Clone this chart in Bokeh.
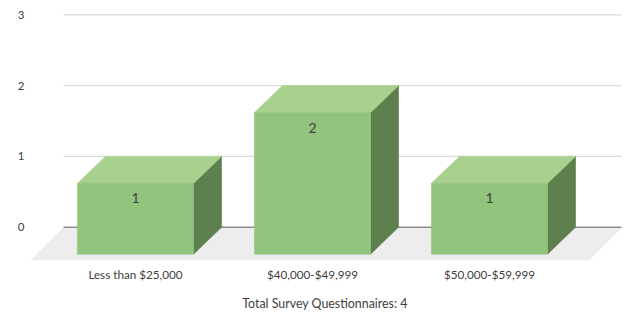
from bokeh.plotting import figure
from bokeh.models import FixedTicker, Range1d
from bokeh.core.properties import value
from bokeh.embed import file_html
from bokeh.resources import INLINE

# ---- data ----
categories = ["Less than $25,000", "$40,000-$49,999", "$50,000-$59,999"]
counts = [1, 2, 1]
y_ticks = [0, 1, 2, 3]
total_label = "Total Survey Questionnaires: 4"

# ---- style ----
FRONT = "#92C47D"
TOP = "#A9D18E"
SIDE = "#5E7F4E"
FLOOR = "#EDEDED"
GRID = "#D9D9D9"
ZERO = "#8C8C8C"
TXT = "#404040"
FONT = value("Lato")

HW = 0.328   # half bar width (category units)
DX = 0.158   # 3D depth offset, x (category units)
DY = 0.381   # 3D depth offset, y (value units)
FDX = 0.186  # floor depth, x
FDY = 0.466  # floor depth, y
n = len(categories)
GX0 = -0.5 + DX - 0.065
GX1 = n - 0.5 + DX + 0.093

p = figure(width=629, height=315,
           x_range=Range1d(-0.6045, 2.7458), y_range=Range1d(-0.4986, 3.089),
           output_backend="svg", toolbar_location=None,
           min_border_left=28, min_border_right=8, min_border_top=8, min_border_bottom=53)
p.grid.visible = False
p.outline_line_color = None
p.background_fill_color = "white"

# floor
p.patch([GX0, GX1, GX1 - FDX, GX0 - FDX], [0, 0, -FDY, -FDY],
        fill_color=FLOOR, line_color=None)

# gridlines
gy = [t for t in y_ticks if t != 0]
p.segment(x0=[GX0] * len(gy), x1=[GX1] * len(gy), y0=gy, y1=gy, line_color=GRID, line_width=1.3)
p.segment(x0=[GX0], x1=[GX1], y0=[0], y1=[0], line_color=ZERO, line_width=1.5)

# bars (3D)
fx, fy, tx, ty, sx, sy = [], [], [], [], [], []
for i, v in enumerate(counts):
    fx.append([i - HW, i + HW, i + HW, i - HW])
    fy.append([-DY, -DY, v - DY, v - DY])
    tx.append([i - HW, i + HW, i + HW + DX, i - HW + DX])
    ty.append([v - DY, v - DY, v, v])
    sx.append([i + HW, i + HW + DX, i + HW + DX, i + HW])
    sy.append([-DY, 0, v, v - DY])
p.patches(sx, sy, fill_color=SIDE, line_color=SIDE, line_width=0.6)
p.patches(tx, ty, fill_color=TOP, line_color=TOP, line_width=0.6)
p.patches(fx, fy, fill_color=FRONT, line_color=FRONT, line_width=0.6)

# data labels
p.text(x=list(range(n)), y=[v - DY for v in counts], text=[str(v) for v in counts],
       text_align="center", text_baseline="middle", y_offset=15,
       text_font_size="14px", text_color=TXT, text_font=FONT)

# axes
p.xaxis.ticker = FixedTicker(ticks=list(range(n)))
p.xaxis.major_label_overrides = {i: c for i, c in enumerate(categories)}
p.xaxis.axis_line_color = None
p.xaxis.major_tick_line_color = None
p.xaxis.minor_tick_line_color = None
p.xaxis.major_label_standoff = -2
p.xaxis.major_label_text_font_size = "11.7px"
p.xaxis.major_label_text_color = TXT
p.xaxis.major_label_text_font = "Lato"
p.xaxis.axis_label = total_label
p.xaxis.axis_label_standoff = 12
p.xaxis.axis_label_text_font_style = "normal"
p.xaxis.axis_label_text_font_size = "12.4px"
p.xaxis.axis_label_text_color = TXT
p.xaxis.axis_label_text_font = "Lato"

p.yaxis.ticker = FixedTicker(ticks=y_ticks)
p.yaxis.axis_line_color = None
p.yaxis.major_tick_line_color = None
p.yaxis.minor_tick_line_color = None
p.yaxis.major_label_standoff = -2
p.yaxis.major_label_text_font_size = "11.5px"
p.yaxis.major_label_text_color = TXT
p.yaxis.major_label_text_font = "Lato"

open("out.html", "w").write(file_html(p, INLINE))
